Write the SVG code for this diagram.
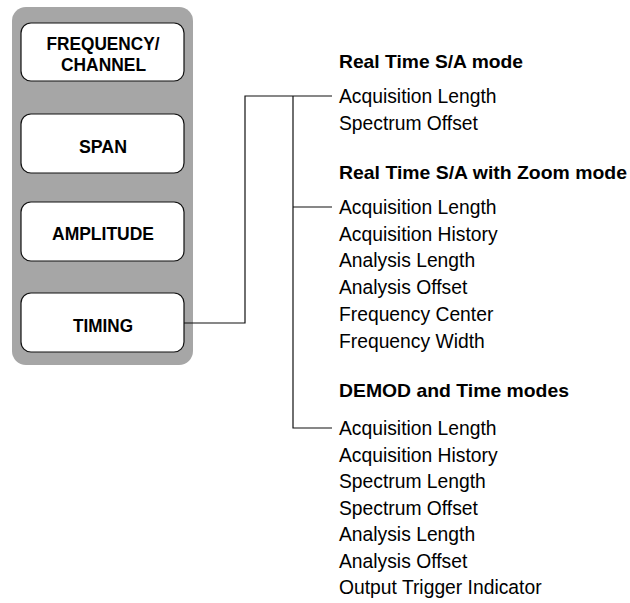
<svg xmlns="http://www.w3.org/2000/svg" width="630" height="603" viewBox="0 0 630 603">
<style>
.btn{fill:#fff;stroke:#111;stroke-width:1.2}
.bt{font-family:"Liberation Sans",Arial,sans-serif;font-weight:bold;font-size:18px;fill:#000;text-anchor:middle}
.hd{font-family:"Liberation Sans",Arial,sans-serif;font-weight:bold;font-size:18.5px;fill:#000}
.it{font-family:"Liberation Sans",Arial,sans-serif;font-size:19.3px;fill:#000}
.ln{fill:none;stroke:#111;stroke-width:1.2}
</style>
<rect x="0" y="0" width="630" height="603" fill="#fff"/>
<rect id="panel" x="12" y="7" width="181" height="358" rx="14" fill="#a6a6a6"/>
<g id="freq">
<rect class="btn" x="21" y="23" width="163" height="58" rx="10"/>
<text class="bt" x="103" y="50" textLength="113" lengthAdjust="spacingAndGlyphs">FREQUENCY/</text>
<text class="bt" x="103.5" y="70.5" textLength="85" lengthAdjust="spacingAndGlyphs">CHANNEL</text>
</g>
<g id="span">
<rect class="btn" x="21" y="114" width="163" height="59" rx="10"/>
<text class="bt" x="103" y="152.5" textLength="48" lengthAdjust="spacingAndGlyphs">SPAN</text>
</g>
<g id="amplitude">
<rect class="btn" x="21" y="202" width="163" height="59" rx="10"/>
<text class="bt" x="103" y="240" textLength="102" lengthAdjust="spacingAndGlyphs">AMPLITUDE</text>
</g>
<g id="timing">
<rect class="btn" x="21" y="293" width="163" height="59" rx="10"/>
<text class="bt" x="103" y="332" textLength="60" lengthAdjust="spacingAndGlyphs">TIMING</text>
</g>
<g id="connectors">
<polyline class="ln" points="184,323 245,323 245,96 332,96"/>
<polyline class="ln" points="293,96 293,428 332,428"/>
<line class="ln" x1="293" y1="207" x2="332" y2="207"/>
</g>
<g id="rt-sa">
<text class="hd" x="339" y="68" textLength="184" lengthAdjust="spacingAndGlyphs">Real Time S/A mode</text>
<text class="it" x="339" y="103">Acquisition Length</text>
<text class="it" x="339" y="129.5">Spectrum Offset</text>
</g>
<g id="rt-zoom">
<text class="hd" x="339" y="179" textLength="288" lengthAdjust="spacingAndGlyphs">Real Time S/A with Zoom mode</text>
<text class="it" x="339" y="214">Acquisition Length</text>
<text class="it" x="339" y="240.7">Acquisition History</text>
<text class="it" x="339" y="267.4">Analysis Length</text>
<text class="it" x="339" y="294.1">Analysis Offset</text>
<text class="it" x="339" y="320.8">Frequency Center</text>
<text class="it" x="339" y="347.5">Frequency Width</text>
</g>
<g id="demod">
<text class="hd" x="339" y="397" textLength="230" lengthAdjust="spacingAndGlyphs">DEMOD and Time modes</text>
<text class="it" x="339" y="435">Acquisition Length</text>
<text class="it" x="339" y="461.5">Acquisition History</text>
<text class="it" x="339" y="488">Spectrum Length</text>
<text class="it" x="339" y="514.5">Spectrum Offset</text>
<text class="it" x="339" y="541">Analysis Length</text>
<text class="it" x="339" y="567.5">Analysis Offset</text>
<text class="it" x="339" y="594">Output Trigger Indicator</text>
</g>
</svg>
